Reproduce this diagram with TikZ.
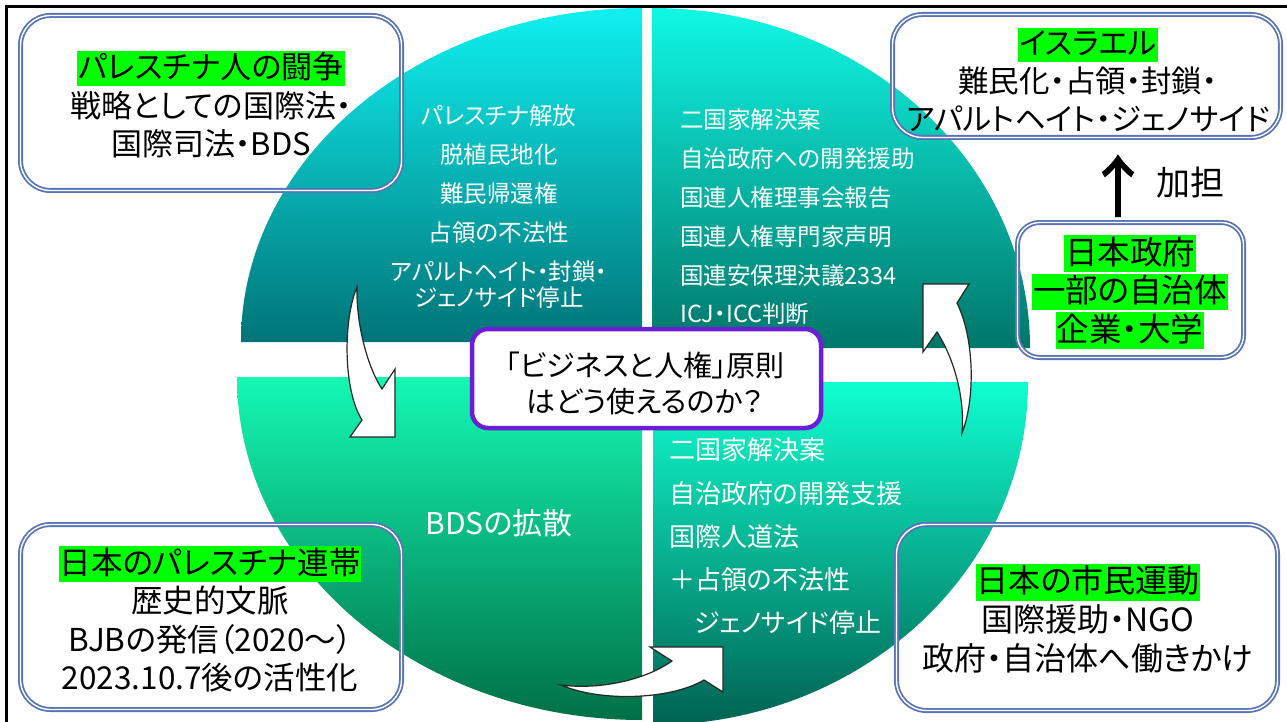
\documentclass[tikz,border=0pt]{standalone}
\usepackage{fontspec}
\setmainfont{Noto Sans CJK JP}[RawFeature=+palt]
\newfontfamily\arrowfont{Noto Sans CJK JP}[FakeBold=2]
\definecolor{hlgreen}{RGB}{0,255,0}
\definecolor{boxblue}{RGB}{88,116,180}
\definecolor{cpurple}{RGB}{108,30,214}
\definecolor{tlTop}{RGB}{16,240,240}
\definecolor{tlBot}{RGB}{0,116,120}
\definecolor{trTop}{RGB}{16,248,228}
\definecolor{trBot}{RGB}{0,118,106}
\definecolor{blTop}{RGB}{20,248,180}
\definecolor{blBot}{RGB}{0,112,70}
\definecolor{brTop}{RGB}{16,255,208}
\definecolor{brBot}{RGB}{0,98,82}
\newcommand\fs[2]{\fontsize{#1}{#2}\selectfont}
\newcommand\hl[1]{{\setlength{\fboxsep}{1pt}\colorbox{hlgreen}{\rule[-0.21em]{0pt}{1.07em}#1}}}
\begin{document}
\begin{tikzpicture}[x=1pt,y=-1pt,
  frame/.style={draw=boxblue, line width=1.8pt, double=white, double distance=1.4pt, rounded corners=30pt, inner sep=0pt},
  boxtext/.style={align=center, text=black, inner sep=0pt},
  qtext/.style={text=white, inner sep=0pt},
  blockarrow/.style={draw=black!85, line width=1.2pt, fill=white, line join=miter}]
\useasboundingbox (0,0) rectangle (1287,722);
% quadrants
\shade[top color=tlTop, bottom color=tlBot] (642,342) -- (241,342) arc[start angle=180,end angle=90,x radius=401pt,y radius=334pt] -- cycle;
\shade[top color=trTop, bottom color=trBot] (652,348) -- (652,8) arc[start angle=90,end angle=0,x radius=378pt,y radius=340pt] -- cycle;
\shade[top color=blTop, bottom color=blBot] (642,377) -- (237,377) arc[start angle=180,end angle=270,x radius=405pt,y radius=343pt] -- cycle;
\shade[top color=brTop, bottom color=brBot] (653,382) -- (1028,382) arc[start angle=0,end angle=-90,x radius=375pt,y radius=343pt] -- cycle;
% outer frame
\draw[line width=2.5pt] (1290,6.5) -- (6.5,6.5) -- (6.5,730);
% quadrant texts
\node[qtext, align=center, font=\fs{23.5}{39}] (tllist) at (499,206.5) {パレスチナ解放\\脱植民地化\\難民帰還権\\占領の不法性\\アパルトヘイト・封鎖・\\[-13pt]ジェノサイド停止};
\node[qtext, align=left, anchor=west, font=\fs{23.5}{38.8}] (trlist) at (680,217) {二国家解決案\\自治政府への開発援助\\国連人権理事会報告\\国連人権専門家声明\\国連安保理決議2334\\ICJ・ICC判断};
\node[qtext, align=left, anchor=west, font=\fs{26}{43.2}] (brlist) at (669,536.5) {二国家解決案\\自治政府の開発支援\\国際人道法\\＋占領の不法性\\\hspace*{25pt}ジェノサイド停止};
\node[qtext, font=\fs{30}{36}] (bds) at (499,523) {BDSの拡散};
% boxes
\node[frame, minimum width=381pt, minimum height=175pt] (tlbox) at (211,103) {};
\node[boxtext, font=\fs{31}{38.5}] (tltext) at (211,104.5) {\hl{パレスチナ人の闘争}\\戦略としての国際法・\\国際司法・BDS};
\node[frame, minimum width=388pt, minimum height=123pt] (isbox) at (1086.5,76) {};
\node[boxtext, font=\fs{30.5}{38}] (istext) at (1088,80) {\hl{イスラエル}\\難民化・占領・封鎖・\\アパルトヘイト・ジェノサイド};
\node[frame, rounded corners=22pt, minimum width=226pt, minimum height=135pt] (gvbox) at (1130.5,290) {};
\node[boxtext, font=\fs{32.5}{38.5}] (gvtext) at (1130,292) {\hl{日本政府}\\\hl{一部の自治体}\\\hl{企業・大学}};
\node[frame, minimum width=381pt, minimum height=185pt] (blbox) at (211,617) {};
\node[boxtext, font=\fs{31.5}{38.5}] (bltext) at (210,619.5) {\hl{日本のパレスチナ連帯}\\歴史的文脈\\BJBの発信（2020～）\\2023.10.7後の活性化};
\node[frame, minimum width=381pt, minimum height=186pt] (brbox) at (1087,617.5) {};
\node[boxtext, font=\fs{32}{39}] (brtext) at (1088,619) {\hl{日本の市民運動}\\国際援助・NGO\\政府・自治体へ働きかけ};
% kata arrow and label
\node[font={\arrowfont\fs{66}{70}}, inner sep=0pt] (up) at (1118,186) {↑};
\node[font=\fs{34}{40}, inner sep=0pt] (kt) at (1190,183) {加担};
% block arrows
\draw[blockarrow] (357,287) .. controls (343,320) and (343,390) .. (362,420) -- (350,437) -- (395,437) -- (395,369) -- (382,389) .. controls (368,368) and (356,325) .. (357,287) -- cycle;
\draw[blockarrow] (561,685) .. controls (600,690) and (645,680) .. (672,661) -- (650,647) -- (723,647) -- (723,692) -- (704,680) .. controls (670,700) and (600,702) .. (561,685) -- cycle;
\draw[blockarrow] (962,433) .. controls (975,400) and (975,340) .. (957,303) -- (969,284) -- (923,284) -- (923,352) -- (937,332) .. controls (955,360) and (965,400) .. (962,433) -- cycle;
% center box
\node[draw=cpurple, line width=4.5pt, fill=white, rounded corners=16pt, minimum width=349pt, minimum height=99pt, inner sep=0pt] (cbox) at (646.5,378.5) {};
\node[boxtext, font=\fs{29}{36}] (ctext) at (645,383) {「ビジネスと人権」原則\\はどう使えるのか？};
\end{tikzpicture}
\end{document}
